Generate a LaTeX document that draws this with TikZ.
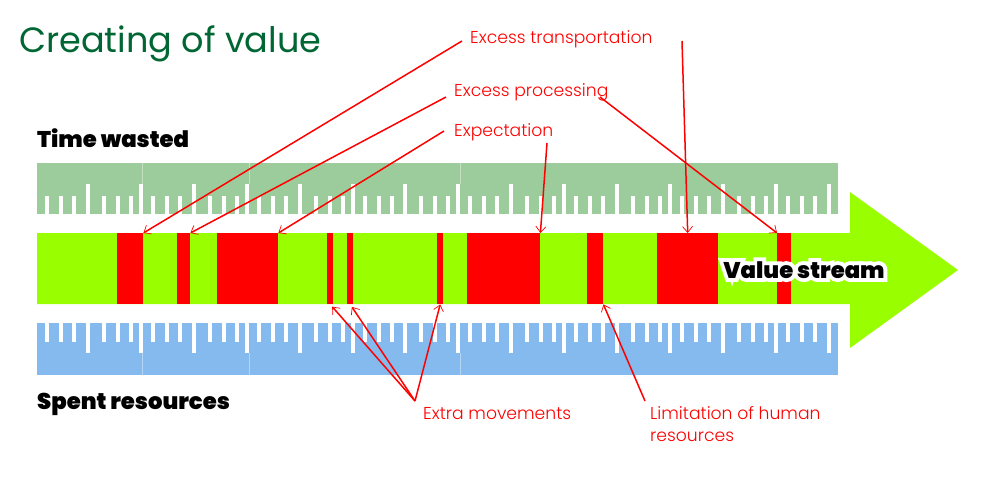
\documentclass[tikz,border=0pt]{standalone}
\usepackage{fontspec}
\setmainfont{Poppins Light}
\newfontfamily\titlefont{Poppins}
\newfontfamily\heavyfont{Poppins Black}
\newfontfamily\halofont[FakeBold=34]{Poppins Black}
\usetikzlibrary{arrows.meta}
\definecolor{leafgreen}{HTML}{99FF00}
\definecolor{wastegreen}{HTML}{9CCC9C}
\definecolor{spentblue}{HTML}{85BAEE}
\definecolor{titlegreen}{HTML}{006633}
\tikzset{
  wastebox/.style={fill=red, inner sep=0, minimum height=71pt, anchor=north west},
  wastelabel/.style={text=red, inner sep=0, anchor=base west, font=\fontsize{17.2}{22}\selectfont},
  wasteline/.style={draw=red, line width=1.5pt, -{Straight Barb[length=6pt,width=10pt,line width=.7pt]}},
  heading/.style={inner sep=0, anchor=base west, font=\heavyfont\fontsize{22.7}{26}\selectfont},
}
\begin{document}
\begin{tikzpicture}[x=1pt, y=-1pt]
\useasboundingbox (0,0) rectangle (1001,501);

\node[inner sep=0, anchor=base west, text=titlegreen, font=\titlefont\fontsize{35.1}{40}\selectfont] (title) at (19,52) {Creating of value};
\node[heading] (wasted) at (37,147) {Time wasted};
\node[heading] (spent) at (37,409) {Spent resources};

% rulers
\fill[wastegreen] (37,163) rectangle (838,214);
\fill[spentblue] (37,323) rectangle (838,375);
\foreach \sep in {142,249,460} {
    \draw[white, opacity=.4, line width=.5pt] (\sep,163) -- (\sep,184);
    \draw[white, opacity=.4, line width=.5pt] (\sep,353) -- (\sep,375);
}
\foreach \base/\low/\high in {214/196/184, 323/342/353} {
    \foreach \k in {-1,...,14} {
        \pgfmathsetmacro{\big}{88+52.9*\k}
        \pgfmathparse{int(mod(\k+2,2))}
        \ifnum\k>-1 \fill[white] (\big-2,\base) rectangle (\big+2,\high); \fi
        \ifnum\k<14
            \foreach \a in {12,26,39} {
                \ifnum\pgfmathresult=1 \pgfmathsetmacro{\tick}{\big+\a}\else \pgfmathsetmacro{\tick}{\big+\a+4}\fi
                \fill[white] (\tick-2,\base) rectangle (\tick+2,\low);
            }
        \fi
    }
}

% value stream
\fill[leafgreen] (37,233) -- (850,233) -- (850,192) -- (958,270) -- (850,348) -- (850,304) -- (37,304) -- cycle;
\foreach \n/\x/\w in {1/117/26, 2/177/13, 3/217/61, 4/327/6, 5/347/6, 6/437/6, 7/467/73, 8/587/16, 9/657/61, 10/777/14} {
    \node[wastebox, minimum width=\w pt] (waste\n) at (\x,233) {};
}
\node[text=white, inner sep=0, anchor=base, font=\halofont\fontsize{22.7}{26}\selectfont] (halo) at (804,278) {Value stream};
\node[inner sep=0, anchor=base, font=\heavyfont\fontsize{22.7}{26}\selectfont] (stream) at (804,278) {Value stream};

% labels
\node[wastelabel] (transport) at (470,43) {Excess transportation};
\node[wastelabel] (processing) at (454,96) {Excess processing};
\node[wastelabel] (expectation) at (454,136) {Expectation};
\node[wastelabel] (movements) at (423,419) {Extra movements};
\node[wastelabel] (limitation) at (650,419) {Limitation of human};
\node[wastelabel] (limitation2) at (650,441) {resources};
\coordinate (transroot) at (462,41);
\coordinate (procroot) at (446,97);
\coordinate (exproot) at (444,131);
\coordinate (free) at (682,41);
\coordinate (procend) at (600,97);
\coordinate (expend) at (547,143);
\coordinate (moveroot) at (415,401);
\coordinate (limitroot) at (645,401);

% connectors
\draw[wasteline] (transroot) -- (waste1.north east);
\draw[wasteline] (procroot) -- (waste2.north east);
\draw[wasteline] (exproot) -- (waste3.north east);
\draw[wasteline] (expend) -- (waste7.north east);
\draw[wasteline] (free) -- (waste9.north);
\draw[wasteline] (procend) -- (waste10.north west);
\draw[wasteline, shorten >=3pt] (moveroot) -- (waste4.south);
\draw[wasteline, shorten >=3pt] (moveroot) -- (waste5.south);
\draw[wasteline] (moveroot) -- (waste6.south);
\draw[wasteline] (limitroot) -- (waste8.south east);
\end{tikzpicture}
\end{document}
